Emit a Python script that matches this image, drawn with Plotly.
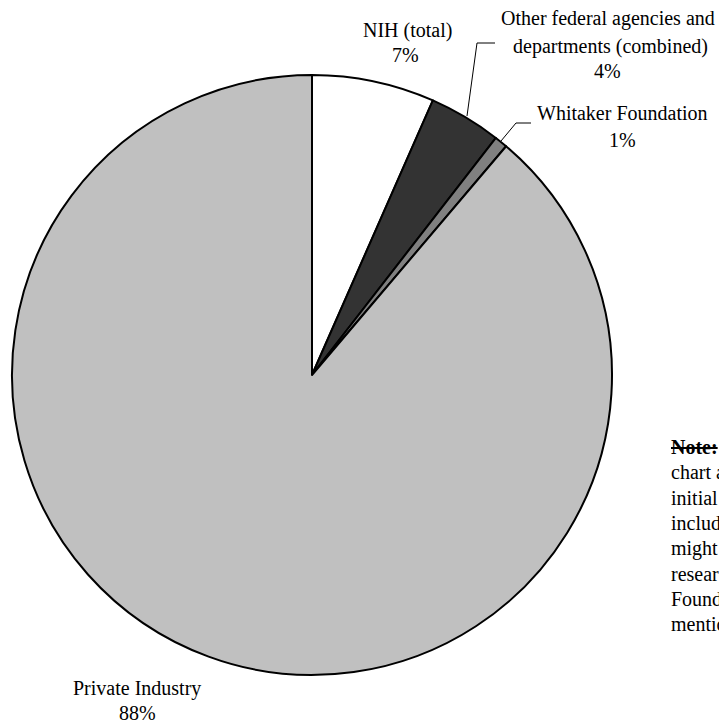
import plotly.graph_objects as go

# ---- data ----
categories = ["NIH (total)", "Other federal agencies and departments (combined)",
              "Whitaker Foundation", "Private Industry"]
shares = [6.6, 3.9, 0.7, 88.8]
pct_labels = ["7%", "4%", "1%", "88%"]
slice_colors = ["#ffffff", "#333333", "#808080", "#c0c0c0"]

note_lines = ["<b><s>Note:</s></b>", "chart and", "initial", "included",
              "might", "research", "Foundation", "mentioned"]

W, H = 719, 723
FONT = "Liberation Serif, Times New Roman, serif"


def px(x):
    return x / W


def py(y):
    return 1 - y / H


fig = go.Figure(go.Pie(
    labels=categories, values=shares, sort=False, direction="clockwise",
    rotation=0, textinfo="none", hoverinfo="label+percent",
    marker=dict(colors=slice_colors, line=dict(color="#000000", width=2)),
    domain=dict(x=[px(12), px(612)], y=[py(675), py(75)]),
    showlegend=False,
))

annotations = []


def add_text(text, x, y, anchor="center", size=20):
    annotations.append(dict(text=text, x=px(x), y=py(y), xref="paper", yref="paper",
                            xanchor=anchor, yanchor="middle", showarrow=False,
                            font=dict(family=FONT, size=size, color="#000000")))


# slice labels (name lines + percentage)
add_text(categories[0], 407, 31)
add_text(pct_labels[0], 405, 55)
add_text("Other federal agencies and", 608, 18)
add_text("departments (combined)", 610, 46)
add_text(pct_labels[1], 607, 71)
add_text(categories[2], 622, 113)
add_text(pct_labels[2], 622, 140)
add_text(categories[3], 137, 688)
add_text(pct_labels[3], 137, 713)

# note text (cut off by the right edge, as in the reference)
for i, line in enumerate(note_lines):
    add_text(line, 669, 447 + i * 25.3, anchor="left", size=20)

# leader lines
shapes = []


def add_leader(points):
    path = "M " + " L ".join(f"{px(x)},{py(y)}" for x, y in points)
    shapes.append(dict(type="path", path=path, xref="paper", yref="paper",
                       line=dict(color="#000000", width=1)))


add_leader([(467, 116), (477, 43), (495, 43)])
add_leader([(501, 141), (516, 123), (531, 123)])

fig.update_layout(
    width=W, height=H, margin=dict(l=0, r=0, t=0, b=0),
    paper_bgcolor="#ffffff", plot_bgcolor="#ffffff",
    annotations=annotations, shapes=shapes,
)

fig.write_html("out.html")
